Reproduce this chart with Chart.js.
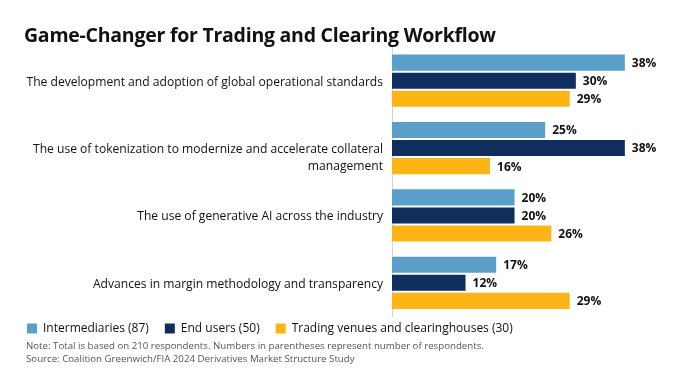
<!DOCTYPE html>
<html><head><meta charset="utf-8">
<script src="https://cdn.jsdelivr.net/npm/chart.js@4.4.1/dist/chart.umd.min.js"></script>
<style>
html,body{margin:0;padding:0;background:#fff;}
#wrap{position:relative;width:680px;height:383px;overflow:hidden;}
#title{position:absolute;left:24px;top:21px;font-family:"Open Sans",sans-serif;font-weight:700;font-size:19.5px;color:#111;white-space:nowrap;letter-spacing:-0.25px;}
#notes{position:absolute;left:26px;top:340px;font-family:"Open Sans",sans-serif;font-size:9.7px;line-height:12.5px;color:#555;white-space:nowrap;}
canvas{position:absolute;left:0;top:0;}
</style></head>
<body><div id="wrap">
<canvas id="c" width="680" height="383"></canvas>
<div id="title">Game-Changer for Trading and Clearing Workflow</div>
<div id="notes">Note: Total is based on 210 respondents. Numbers in parentheses represent number of respondents.<br>Source: Coalition Greenwich/FIA 2024 Derivatives Market Structure Study</div>
</div>
<script>
const categories = [
  "The development and adoption of global operational standards",
  ["", "The use of tokenization to modernize and accelerate collateral", "management"],
  "The use of generative AI across the industry",
  "Advances in margin methodology and transparency"
];
const seriesNames = ["Intermediaries (87)", "End users (50)", "Trading venues and clearinghouses (30)"];
const intermediaries = [38, 25, 20, 17];
const endUsers = [30, 38, 20, 12];
const tradingVenues = [29, 16, 26, 29];
const colors = ["#5A9FC9", "#0F2E5E", "#FDB515"];

const FONT = "'Open Sans', sans-serif";
const PAD_LEFT = 11;
const LEGEND_SHIFT = -10;

const valueLabels = {
  id: 'valueLabels',
  afterDatasetsDraw(chart) {
    const ctx = chart.ctx;
    ctx.save();
    ctx.font = "700 12px " + FONT;
    ctx.fillStyle = "#111";
    ctx.textBaseline = "middle";
    ctx.textAlign = "left";
    chart.data.datasets.forEach((ds, i) => {
      chart.getDatasetMeta(i).data.forEach((bar, j) => {
        ctx.fillText(ds.data[j] + "%", bar.x + 7, bar.y + 1);
      });
    });
    ctx.restore();
  }
};

const legendNudge = {
  id: 'legendNudge',
  afterLayout(chart) {
    const lg = chart.legend;
    if (lg) { lg.top += LEGEND_SHIFT; lg.bottom += LEGEND_SHIFT; }
  }
};

new Chart(document.getElementById('c'), {
  type: 'bar',
  data: {
    labels: categories,
    datasets: [
      { label: seriesNames[0], data: intermediaries, backgroundColor: colors[0] },
      { label: seriesNames[1], data: endUsers, backgroundColor: colors[1] },
      { label: seriesNames[2], data: tradingVenues, backgroundColor: colors[2] }
    ]
  },
  options: {
    indexAxis: 'y',
    responsive: false,
    animation: false,
    layout: { padding: { left: PAD_LEFT, right: 0, top: 47, bottom: 28.5 } },
    datasets: { bar: { categoryPercentage: 0.806, barPercentage: 0.889 } },
    scales: {
      x: { display: false, min: 0, max: 47 },
      y: {
        grid: { display: false, drawTicks: false },
        border: { display: true, color: '#d4d4d4', width: 1 },
        ticks: { padding: 9, labelOffset: 1.5, color: '#111', font: { family: FONT, size: 12.1, lineHeight: 1.4 } },
        afterFit(scale) { scale.width = 392 - PAD_LEFT; }
      }
    },
    plugins: {
      legend: {
        position: 'bottom',
        align: 'start',
        labels: {
          boxWidth: 10, boxHeight: 10, padding: 16,
          color: '#111', font: { family: FONT, size: 12 }
        }
      },
      tooltip: { enabled: false }
    }
  },
  plugins: [valueLabels, legendNudge]
});
</script>
</body></html>
